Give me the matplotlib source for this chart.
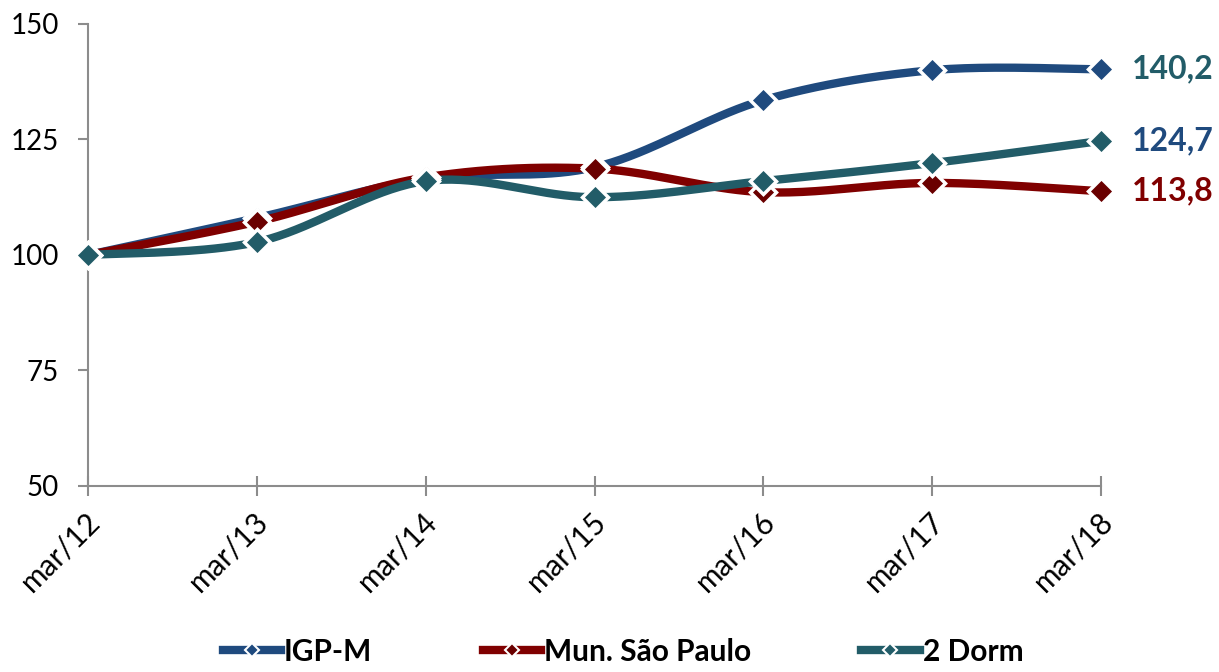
import numpy as np
import matplotlib
matplotlib.use("Agg")
import matplotlib.pyplot as plt
import matplotlib.transforms as mtrans
from matplotlib.lines import Line2D

plt.rcParams["font.family"] = ["Lato", "DejaVu Sans"]

# data
periods = ["mar/12", "mar/13", "mar/14", "mar/15", "mar/16", "mar/17", "mar/18"]
igpm = [100.0, 108.0, 116.5, 119.0, 133.5, 140.0, 140.2]
mun_sp = [100.0, 107.2, 116.8, 118.7, 113.6, 115.6, 113.8]
dorm2 = [100.0, 102.8, 116.0, 112.5, 116.0, 119.9, 124.7]
end_labels = ["140,2", "124,7", "113,8"]
end_values = [140.2, 124.7, 113.8]

c_blue = "#1F4A7E"
c_red = "#800000"
c_teal = "#225C68"
c_spine = "#8C8C8C"


def smooth(xs, ys, n=40):
    # excel-like smoothed line: bezier segments from catmull-rom tangents
    p = np.column_stack([xs, ys]).astype(float)
    p = np.vstack([p[0], p, p[-1]])
    t = np.linspace(0, 1, n)[:, None]
    out = []
    for i in range(1, len(p) - 2):
        p0, p1 = p[i], p[i + 1]
        c1 = p0 + (p[i + 1] - p[i - 1]) / 6
        c2 = p1 - (p[i + 2] - p[i]) / 6
        seg = ((1 - t) ** 3) * p0 + 3 * ((1 - t) ** 2) * t * c1 \
            + 3 * (1 - t) * t ** 2 * c2 + t ** 3 * p1
        out.append(seg)
    out = np.vstack(out)
    return out[:, 0], out[:, 1]


fig = plt.figure(figsize=(12.19, 6.72), dpi=100)
ax = fig.add_axes([0.0722, 0.2768, 0.831, 0.6875])

x = np.arange(len(periods))
for vals, col, face in [(igpm, c_blue, c_blue), (mun_sp, c_red, "#6A0000"), (dorm2, c_teal, c_teal)]:
    sx, sy = smooth(x, vals)
    ax.plot(sx, sy, color=col, lw=6, solid_capstyle="round", clip_on=False, zorder=2)
    ax.plot(x, vals, ls="none", marker="D", ms=13, mfc=face, mec="white", mew=2.5,
            clip_on=False, zorder=3)

for lab, v, col in zip(end_labels, end_values, [c_teal, c_blue, c_red]):
    ax.annotate(lab, (x[-1], v), xytext=(22, 0), textcoords="offset points",
                ha="left", va="center", fontsize=23, fontweight="bold", color=col,
                annotation_clip=False)

ax.set_xlim(0, len(periods) - 1)
ax.set_ylim(50, 150)
ax.set_yticks([50, 75, 100, 125, 150])
ax.set_xticks(x)
ax.set_xticklabels(periods, rotation=45, ha="right", va="center",
                   rotation_mode="anchor")

for s in ["top", "right"]:
    ax.spines[s].set_visible(False)
for s in ["left", "bottom"]:
    ax.spines[s].set_color(c_spine)
    ax.spines[s].set_linewidth(1.5)

ax.tick_params(axis="y", direction="out", length=7, width=1.5, color=c_spine,
               labelsize=20, pad=14)
ax.tick_params(axis="x", direction="inout", length=14, width=1.5, color=c_spine,
               labelsize=21.5, pad=15)

shift = mtrans.ScaledTranslation(7 / 100, 0, fig.dpi_scale_trans)
for lbl in ax.get_xticklabels():
    lbl.set_transform(lbl.get_transform() + shift)

handles = [
    Line2D([], [], color=c_blue, lw=6, marker="D", ms=7, mfc=c_blue, mec="white", mew=1.5),
    Line2D([], [], color=c_red, lw=6, marker="D", ms=7, mfc="#6A0000", mec="white", mew=1.5),
    Line2D([], [], color=c_teal, lw=6, marker="D", ms=7, mfc=c_teal, mec="white", mew=1.5),
]
fig.legend(handles, ["IGP-M", "Mun. São Paulo", "2 Dorm"], loc="center",
           bbox_to_anchor=(0.511, 0.03), ncol=3, frameon=False,
           prop={"weight": "bold", "size": 21.5}, handlelength=1.95, handletextpad=0.1,
           columnspacing=3.7, borderpad=0.0)

fig.savefig("out.png", dpi=100)
plt.close(fig)
